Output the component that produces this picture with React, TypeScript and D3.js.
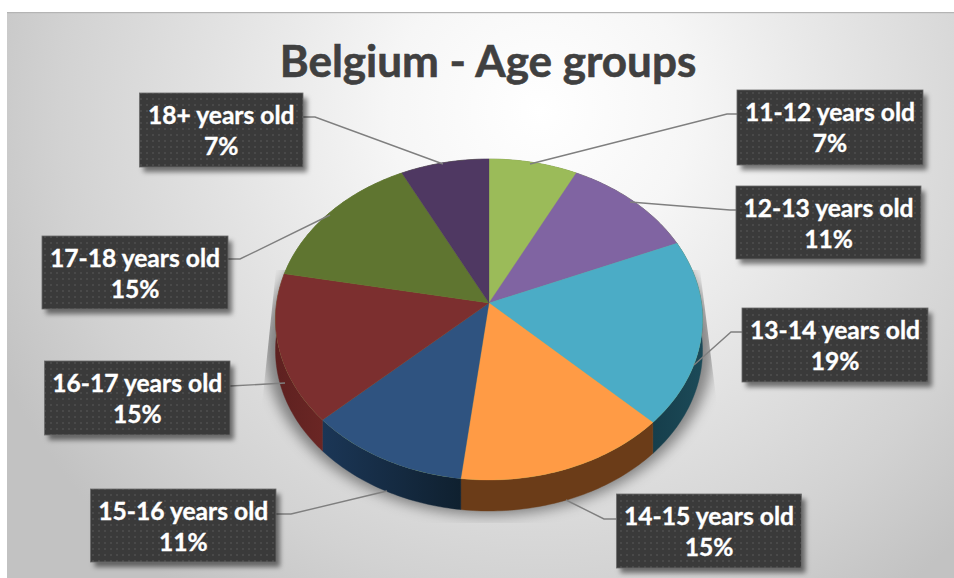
import React from "react";
import * as d3 from "d3";

const chartTitle = "Belgium - Age groups";
const categories = ["11-12 years old", "12-13 years old", "13-14 years old", "14-15 years old", "15-16 years old", "16-17 years old", "17-18 years old", "18+ years old"];
const shares = [7.4, 11.2, 18.7, 14.6, 11.1, 15, 14.6, 7.4];
const topColors = ["#9BBB59", "#8064A2", "#4BACC6", "#FF9B45", "#2F5380", "#7C2F2F", "#5F7530", "#4F3862"];
const wallColorsA = ["#5d7035", "#4d3c61", "#1c4a58", "#6b3c18", "#1b3656", "#5e2120", "#3a4a1d", "#30243d"];
const wallColorsB = ["#5d7035", "#4d3c61", "#163e4b", "#6b3c18", "#0f202f", "#6a2624", "#3a4a1d", "#30243d"];
// label box [x, y, w, h]
const boxes = [
  [737, 90, 186, 75],
  [736, 186, 185, 73],
  [742, 308, 186, 74],
  [616.5, 494, 185, 74],
  [90.5, 489, 185.5, 73],
  [44.5, 361, 185.5, 74],
  [42, 236, 186, 73],
  [139.5, 93, 163.5, 74],
];
// leader polylines
const leaders = [
  [[737, 114], [727, 114], [530, 164]],
  [[736, 210], [730, 210], [630, 202]],
  [[742, 332], [731, 332], [694, 365]],
  [[616.5, 519], [604, 519], [566, 500]],
  [[276, 514], [291, 514], [387, 491]],
  [[230, 386], [285, 383]],
  [[228, 259], [240, 259], [330, 215]],
  [[303, 117], [315, 117], [443, 164]],
];

const apexX = 489, apexY = 303, persp = 0.1028, scaleX = 212.4, scaleY = 158.8, depth = 31;

function project(theta: number, dy = 0): [number, number] {
  const w = 1 + persp * Math.cos(theta);
  return [apexX + (scaleX * Math.sin(theta)) / w, apexY - (scaleY * Math.cos(theta)) / w + dy];
}

const arcs = d3.pie<number>().sort(null).value((d) => d)(shares);
const line = d3.line();

function arcPoints(a: number, b: number, dy = 0): [number, number][] {
  const n = Math.max(2, Math.ceil((b - a) / (Math.PI / 180)));
  return d3.range(n + 1).map((i) => project(a + ((b - a) * i) / n, dy));
}

const FONT = "Lato, 'Open Sans', sans-serif";

export default function App() {
  const ellipseTop = arcPoints(0, 2 * Math.PI);
  const ellipseShadow = arcPoints(0, 2 * Math.PI, 0);
  return (
    <svg width={954} height={578} style={{ position: "absolute", left: 0, top: 0 }}>
      <defs>
        <radialGradient id="bg" gradientUnits="userSpaceOnUse" cx={540} cy={110} r={600}>
          <stop offset="0" stopColor="#ffffff" />
          <stop offset="0.25" stopColor="#f6f6f6" />
          <stop offset="0.55" stopColor="#e2e2e2" />
          <stop offset="0.8" stopColor="#d2d2d2" />
          <stop offset="1" stopColor="#c2c2c2" />
        </radialGradient>
        <pattern id="dots" width={6} height={6} patternUnits="userSpaceOnUse">
          <rect width={6} height={6} fill="#3a3a3a" />
          <circle cx={3} cy={3} r={1} fill="#4e4e4e" />
        </pattern>
        <filter id="blurS" x="-20%" y="-20%" width="140%" height="140%">
          <feGaussianBlur stdDeviation={6} />
        </filter>
        <filter id="boxShadow" x="-20%" y="-20%" width="140%" height="140%">
          <feGaussianBlur stdDeviation={2.5} />
        </filter>
        <clipPath id="shadowClip">
          <polygon points="276,270 262,405 262,523 717,523 717,405 700,270" />
        </clipPath>
        {arcs.map((a, i) => (
          <linearGradient key={i} id={`wall${i}`} gradientUnits="userSpaceOnUse"
            x1={d3.min(arcPoints(a.startAngle, a.endAngle), (p) => p[0])} y1={0}
            x2={d3.max(arcPoints(a.startAngle, a.endAngle), (p) => p[0])} y2={0}>
            <stop offset="0" stopColor={i === 2 ? wallColorsB[i] : wallColorsA[i]} />
            <stop offset="1" stopColor={i === 2 ? wallColorsA[i] : wallColorsB[i]} />
          </linearGradient>
        ))}
      </defs>

      <rect x={7} y={12} width={947} height={566} fill="url(#bg)" />
      <rect x={7} y={12} width={947} height={1.2} fill="#b4b4b4" />

      <g clipPath="url(#shadowClip)">
        <g transform="translate(489 345) scale(1.05 1.05) translate(-489 -318)">
          <path d={line(ellipseShadow) + "Z"} fill="#000" fillOpacity={0.42} filter="url(#blurS)" />
        </g>
      </g>

      {arcs.map((a, i) => {
        const top = arcPoints(a.startAngle, a.endAngle);
        const bottom = arcPoints(a.startAngle, a.endAngle, depth).reverse();
        return <path key={i} d={line([...top, ...bottom]) + "Z"} fill={`url(#wall${i})`} stroke={`url(#wall${i})`} strokeWidth={0.4} />;
      })}
      <path d={line(ellipseTop) + "Z"} fill={topColors[0]} />
      {arcs.map((a, i) => (
        <path key={i} d={line([[apexX, apexY], ...arcPoints(a.startAngle, a.endAngle)]) + "Z"} fill={topColors[i]} stroke={topColors[i]} strokeWidth={0.3} />
      ))}

      {leaders.map((l, i) => (
        <path key={i} d={line(l as [number, number][])!} fill="none" stroke="#7f7f7f" strokeWidth={1.4} />
      ))}

      <text x={488} y={77} textAnchor="middle" fontFamily={FONT} fontWeight={700} fontSize={44} fill="#404040" stroke="#404040" strokeWidth={0.6}>{chartTitle}</text>

      {categories.map((c, i) => {
        const [x, y, w, h] = boxes[i];
        return (
          <g key={c}>
            <rect x={x + 4} y={y + 5} width={w} height={h} fill="#000" fillOpacity={0.5} filter="url(#boxShadow)" />
            <rect x={x} y={y} width={w} height={h} fill="url(#dots)" stroke="#6b6b6b" strokeWidth={0.8} />
            <text x={x + w / 2} y={y + 31} textAnchor="middle" fontFamily={FONT} fontWeight={700} fontSize={24.6} fill="#fff" stroke="#fff" strokeWidth={0.35}>{c}</text>
            <text x={x + w / 2} y={y + 62} textAnchor="middle" fontFamily={FONT} fontWeight={700} fontSize={24.6} fill="#fff" stroke="#fff" strokeWidth={0.35}>{Math.round(shares[i])}%</text>
          </g>
        );
      })}
    </svg>
  );
}
